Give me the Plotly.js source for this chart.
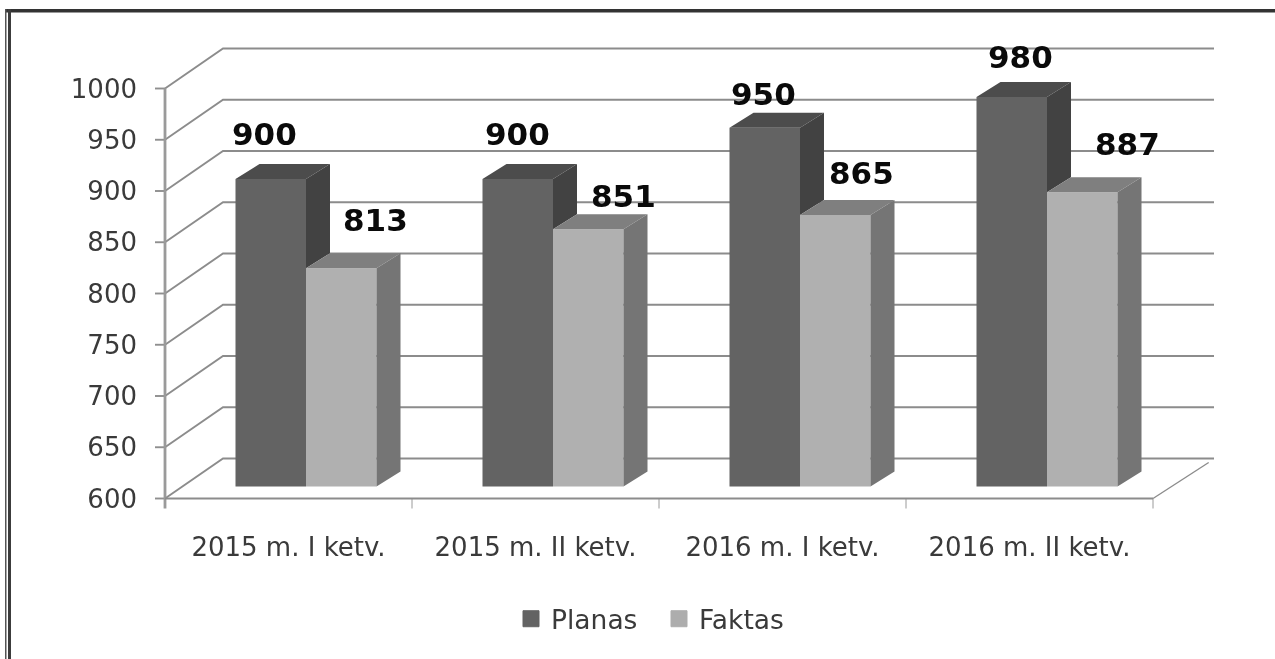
<!DOCTYPE html>
<html><head><meta charset="utf-8">
<script src="https://cdn.plot.ly/plotly-3.0.1.min.js"></script>
<style>
html,body{margin:0;padding:0;background:#fff;width:1275px;height:659px;overflow:hidden}
#chart{position:absolute;left:0;top:0;width:1275px;height:659px;filter:blur(0.55px)}
</style></head><body><div id="chart"></div>
<script>
const categories = ["2015 m. I ketv.", "2015 m. II ketv.", "2016 m. I ketv.", "2016 m. II ketv."];
const planas = [900, 900, 950, 980];
const faktas = [813, 851, 865, 887];
const yTicks = [600, 650, 700, 750, 800, 850, 900, 950, 1000];
const labelShiftPlanas = [[-6, 45], [0, 45], [-1, 34], [9, 40]];
const labelShiftFaktas = [[34, 48], [35, 33], [26, 42], [45, 48]];

const W = 1275, H = 659;
const ox = 165, oy = 498.5;               // pixel position of the axes' origin
const L = 153, R = 1216, T = 44, B = 510; // plot area, slightly larger so edge lines are not clipped
const catPx = 247, yPx = 1.025;
const xMin = (L - ox) / catPx, xMax = (R - ox) / catPx;
const yMin = 600 - (B - oy) / yPx, yMax = 600 + (oy - T) / yPx;
const wallDx = 58 / catPx, wallDy = 40 / yPx, wallRight = (1214 - ox) / catPx;
const planeDx = 17.5 / catPx, planeDy = 12 / yPx;
const barDx = 24 / catPx, barDy = 15 / yPx;
const bargap = 1 - 141 / 247, halfGroup = (1 - bargap) / 2;
const centers = categories.map((_, i) => i + 0.5);
const gridColor = "#8c8c8c", textColor = "#3a3a3a";
const line = (x, y, color, width) => ({x, y, type: "scatter", mode: "lines", line: {color, width}, hoverinfo: "skip", showlegend: false});

function face(list, color) {
  const x = [], y = [];
  list.forEach(p => { p.forEach(q => { x.push(q[0]); y.push(q[1]); }); x.push(p[0][0], null); y.push(p[0][1], null); });
  return {x, y, xaxis: "x2", yaxis: "y2", type: "scatter", mode: "lines", fill: "toself",
    fillcolor: color, line: {width: 0, color}, hoverinfo: "skip", showlegend: false};
}

const gridX = [], gridY = [], yTickX = [], yTickY = [];
yTicks.forEach(v => {
  gridX.push(0, wallDx, wallRight, null);
  gridY.push(v, v + wallDy, v + wallDy, null);
  yTickX.push(-10 / catPx, 0, null);
  yTickY.push(v, v, null);
});
const xTickX = [], xTickY = [];
categories.forEach((_, i) => { xTickX.push(i + 1, i + 1, null); xTickY.push(600, 600 - 10 / yPx, null); });

const grid = line(gridX, gridY, gridColor, 1.9);
const yTickMarks = line(yTickX, yTickY, "#8f8f8f", 1.9);
const xTickMarks = line(xTickX, xTickY, "#9a9a9a", 1);
const yLine = line([0, 0], [yTicks[yTicks.length - 1], 600 - 10 / yPx], "#9a9a9a", 2.8);
const xLine = line([0, categories.length], [600, 600], gridColor, 2);
const floorEnd = line([categories.length, categories.length + wallDx * 0.96], [600, 600 + wallDy * 0.9], gridColor, 1.4);

const bar = (vals, name, color) => ({
  type: "bar", name, x: centers, y: vals.map(v => v - 600), base: 600, xaxis: "x2", yaxis: "y2",
  marker: {color, line: {width: 0}}, hoverinfo: "skip", showlegend: false
});
const planFront = bar(planas, "Planas", "#636363");
const factFront = bar(faktas, "Faktas", "#b0b0b0");

const planTop = [], planSide = [], factTop = [], factSide = [];
centers.forEach((c, i) => {
  const x0 = c - halfGroup, xm = c, x1 = c + halfGroup;
  const P = planas[i], F = faktas[i];
  planTop.push([[x0, P], [xm, P], [xm + barDx, P + barDy], [x0 + barDx, P + barDy]]);
  planSide.push([[xm, P], [xm + barDx, P + barDy], [xm + barDx, F + barDy], [xm, F]]);
  factTop.push([[xm, F], [x1, F], [x1 + barDx, F + barDy], [xm + barDx, F + barDy]]);
  factSide.push([[x1, F], [x1 + barDx, F + barDy], [x1 + barDx, 600 + barDy], [x1, 600]]);
});

const legendTrace = (name, color) => ({
  type: "scatter", mode: "markers", name, x: [null], y: [null], xaxis: "x2", yaxis: "y2",
  marker: {symbol: "square", size: 16, color, line: {width: 1, color}}, hoverinfo: "skip"
});

const annotations = [];
const addLabels = (vals, shifts, sign) => vals.forEach((v, i) => annotations.push({
  xref: "x2", yref: "y2", x: centers[i] + sign * halfGroup / 2, y: v, text: String(v), showarrow: false,
  xanchor: "center", yanchor: "middle", xshift: shifts[i][0], yshift: shifts[i][1],
  font: {family: "DejaVu Sans", size: 31, color: "#0a0a0a", weight: 700}
}));
addLabels(planas, labelShiftPlanas, -1);
addLabels(faktas, labelShiftFaktas, 1);

const px = v => (v - L) / (R - L), py = v => (B - v) / (B - T);
const frameRect = (x0, y0, x1, y1, color) => ({type: "rect", xref: "paper", yref: "paper", layer: "above",
  x0: px(x0), x1: px(x1), y0: py(y0), y1: py(y1), fillcolor: color, line: {width: 0}});
const shapes = [
  frameRect(5, 9, 1275, 12.5, "#333333"),
  frameRect(5, 9, 6.5, 659, "#555555"),
  frameRect(8, 9, 11, 659, "#3c3c3c")
];

const data = [grid, yTickMarks, xTickMarks, yLine, xLine, floorEnd, planFront, factFront,
  face(planTop, "#4c4c4c"), face(planSide, "#424242"), face(factTop, "#7f7f7f"), face(factSide, "#757575"),
  legendTrace("Planas", "#636363"), legendTrace("Faktas", "#adadad")];

const layout = {
  width: W, height: H, margin: {l: L, r: W - R, t: T, b: H - B, pad: 0},
  paper_bgcolor: "#fff", plot_bgcolor: "rgba(0,0,0,0)",
  font: {family: "DejaVu Sans", size: 25, color: textColor},
  barmode: "group", bargap, bargroupgap: 0,
  xaxis: {range: [xMin, xMax], tickmode: "array", tickvals: centers, ticktext: categories, ticks: "",
    ticklabelstandoff: 19, showgrid: false, zeroline: false, showline: false,
    tickfont: {size: 26, color: textColor}},
  yaxis: {range: [yMin, yMax], tickmode: "array", tickvals: yTicks, ticks: "",
    showgrid: false, zeroline: false, showline: false, ticklabelstandoff: 15, tickfont: {size: 26, color: textColor}},
  xaxis2: {range: [xMin - planeDx, xMax - planeDx], overlaying: "x", visible: false},
  yaxis2: {range: [yMin - planeDy, yMax - planeDy], overlaying: "y", visible: false},
  showlegend: true,
  legend: {orientation: "h", x: px(511), xanchor: "left", y: py(595), yanchor: "top", traceorder: "normal",
    entrywidth: 103, entrywidthmode: "pixels", itemwidth: 30,
    font: {size: 26.5, color: textColor}, bgcolor: "rgba(0,0,0,0)", itemclick: false, itemdoubleclick: false},
  shapes, annotations
};
Plotly.newPlot("chart", data, layout, {displayModeBar: false, staticPlot: true});
</script></body></html>
